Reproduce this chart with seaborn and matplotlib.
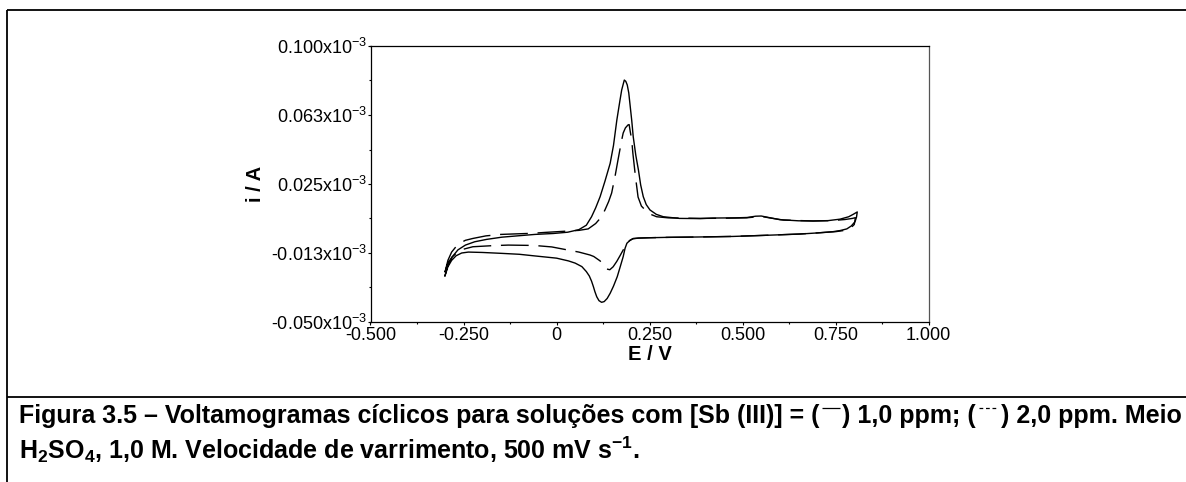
import matplotlib
matplotlib.use("Agg")
import matplotlib.pyplot as plt
from matplotlib.lines import Line2D
from matplotlib.ticker import AutoMinorLocator
import numpy as np
import pandas as pd
import seaborn as sns

# ---------------- data (E in V, i in microampere) ----------------
E_1ppm = [-0.300, -0.292, -0.280, -0.265, -0.245, -0.220, -0.188, -0.147, -0.100, -0.058,
          -0.009, 0.030, 0.060, 0.080, 0.094, 0.105, 0.117, 0.130, 0.144, 0.153,
          0.162, 0.170, 0.175, 0.182, 0.186, 0.190, 0.194, 0.197, 0.202, 0.206,
          0.213, 0.220, 0.226, 0.233, 0.241, 0.251, 0.268, 0.287, 0.330, 0.386,
          0.420, 0.480, 0.512, 0.535, 0.550, 0.570, 0.600, 0.650, 0.689, 0.730,
          0.762, 0.785, 0.797, 0.808,
          0.806, 0.802, 0.792, 0.780, 0.762, 0.743, 0.700, 0.654, 0.560, 0.474,
          0.380, 0.297, 0.250, 0.220, 0.206, 0.198, 0.189, 0.184, 0.179, 0.171,
          0.163, 0.153, 0.144, 0.136, 0.128, 0.121, 0.114, 0.108, 0.103, 0.099,
          0.094, 0.088, 0.080, 0.068, 0.050, 0.032, 0.000, -0.058, -0.100, -0.147,
          -0.200, -0.237, -0.255, -0.270, -0.282, -0.292, -0.300]
i_1ppm = [-25.0, -19.0, -14.5, -10.8, -8.2, -6.4, -5.1, -3.9, -3.1, -2.4,
          -1.9, -1.2, 0.2, 2.6, 7.2, 12.0, 18.1, 26.5, 36.2, 46.0,
          59.8, 70.0, 76.1, 81.5, 80.8, 78.8, 74.5, 68.9, 59.5, 50.7,
          40.5, 32.6, 24.5, 18.1, 13.8, 10.9, 8.5, 7.2, 6.3, 6.2,
          6.5, 6.6, 6.8, 7.5, 7.6, 6.8, 5.6, 5.0, 4.9, 5.1,
          5.9, 7.2, 8.5, 9.8,
          7.0, 4.5, 2.2, 0.6, -0.3, -0.9, -1.6, -2.2, -2.9, -3.5,
          -3.8, -4.0, -4.2, -4.4, -4.6, -5.5, -7.2, -10.0, -14.5, -20.0,
          -25.4, -30.5, -34.4, -37.2, -38.9, -39.3, -38.4, -36.3, -33.5, -30.8,
          -27.8, -25.0, -22.6, -19.9, -18.0, -16.8, -15.3, -14.1, -13.2, -12.7,
          -12.2, -12.0, -12.5, -14.0, -16.5, -20.0, -25.0]

E_2ppm = [-0.300, -0.292, -0.282, -0.270, -0.259, -0.245, -0.225, -0.190, -0.150, -0.066,
          -0.030, 0.020, 0.060, 0.085, 0.105, 0.121, 0.130, 0.140, 0.148, 0.157,
          0.165, 0.175, 0.179, 0.185, 0.192, 0.195, 0.198, 0.202, 0.205, 0.212,
          0.219, 0.228, 0.238, 0.252, 0.269, 0.300, 0.386, 0.450, 0.510, 0.540,
          0.552, 0.575, 0.610, 0.690, 0.740, 0.775, 0.795, 0.803,
          0.800, 0.790, 0.775, 0.750, 0.700, 0.650, 0.560, 0.470, 0.380, 0.300,
          0.250, 0.220, 0.205, 0.196, 0.188, 0.180, 0.171, 0.162, 0.152, 0.143,
          0.135, 0.125, 0.117, 0.100, 0.090, 0.060, 0.031, -0.013, -0.060, -0.130,
          -0.171, -0.225, -0.259, -0.281, -0.292, -0.300]
i_2ppm = [-23.0, -16.5, -12.0, -9.0, -7.1, -5.6, -4.6, -3.2, -2.4, -1.8,
          -1.3, -0.7, -0.2, 0.6, 3.5, 7.2, 10.9, 15.5, 20.1, 29.0,
          38.0, 48.9, 52.7, 55.5, 57.1, 57.3, 53.5, 48.9, 41.8, 29.0,
          17.9, 13.0, 10.9, 8.6, 7.2, 6.6, 6.3, 6.4, 6.6, 7.2,
          7.3, 6.5, 5.4, 4.9, 5.1, 5.7, 6.3, 6.7,
          3.0, 1.0, -0.2, -0.9, -1.6, -2.2, -2.9, -3.5, -3.8, -4.0,
          -4.2, -4.4, -4.8, -5.8, -7.5, -10.5, -13.8, -17.0, -20.0, -21.6,
          -21.2, -19.0, -16.8, -14.4, -13.6, -12.0, -10.9, -9.2, -8.4, -8.2,
          -8.5, -9.1, -10.9, -14.7, -18.0, -23.0]

x_ticks = [-0.5, -0.25, 0.0, 0.25, 0.5, 0.75, 1.0]
x_tick_labels = ["-0.500", "-0.250", "0", "0.250", "0.500", "0.750", "1.000"]
y_ticks_e3 = [-0.05, -0.0125, 0.025, 0.0625, 0.1]
y_tick_labels = ["-0.050", "-0.013", "0.025", "0.063", "0.100"]

x_label = "E / V"
y_label = "i / A"
caption_1a = "Figura 3.5 – Voltamogramas cíclicos para soluções com [Sb (III)] = ("
caption_1b = ") 1,0 ppm; ("
caption_1c = ") 2,0 ppm. Meio"
caption_2 = "H$_2$SO$_4$, 1,0 M. Velocidade de varrimento, 500 mV s$^{-1}$."

# ---------------- style ----------------
sns.set_theme(style="ticks")
plt.rcParams["font.family"] = ["Liberation Sans", "DejaVu Sans"]
plt.rcParams["mathtext.default"] = "regular"
plt.rcParams["axes.unicode_minus"] = False

W, H = 1186, 482
fig = plt.figure(figsize=(W / 100, H / 100), dpi=100)
fig.patch.set_facecolor("white")

ax_l, ax_r, ax_t, ax_b = 370.5, 928.7, 46.0, 322.0
ax = fig.add_axes([ax_l / W, 1 - ax_b / H, (ax_r - ax_l) / W, (ax_b - ax_t) / H])

df1 = pd.DataFrame({"E": E_1ppm, "i": np.array(i_1ppm) * 1e-6})
df2 = pd.DataFrame({"E": E_2ppm, "i": np.array(i_2ppm) * 1e-6})
sns.lineplot(data=df1, x="E", y="i", sort=False, estimator=None, color="black",
             linewidth=1.0, ax=ax)
sns.lineplot(data=df2, x="E", y="i", sort=False, estimator=None, color="black",
             linewidth=1.0, linestyle=(0, (20, 7)), ax=ax)

ax.set_xlim(-0.5, 1.0)
ax.set_ylim(-0.05e-3, 0.1e-3)
ax.set_xticks(x_ticks)
ax.set_xticklabels(x_tick_labels)
ax.set_yticks([v * 1e-3 for v in y_ticks_e3])
ax.set_yticklabels([s + "x10$^{-3}$" for s in y_tick_labels])
ax.xaxis.set_minor_locator(AutoMinorLocator(2))
ax.yaxis.set_minor_locator(AutoMinorLocator(2))
ax.tick_params(which="major", direction="out", length=2.4, width=0.8, color="black",
               labelsize=13, labelcolor="black")
ax.tick_params(axis="y", which="major", pad=0)
ax.tick_params(axis="x", which="major", pad=1.5)
ax.tick_params(which="minor", direction="out", length=1.6, width=0.8, color="black")

for side, sp in ax.spines.items():
    sp.set_visible(True)
    sp.set_color("black")
    sp.set_linewidth(0.9)
ax.spines["right"].set_color("#555555")
ax.set_facecolor("white")
ax.grid(False)

ax.set_xlabel(x_label, fontsize=14.5, fontweight="bold", color="black")
ax.set_ylabel(y_label, fontsize=14.5, fontweight="bold", color="black")
ax.xaxis.set_label_coords(0.5, (ax_b - 355) / (ax_b - ax_t))
ax.xaxis.label.set_verticalalignment("center")
ax.yaxis.set_label_coords((255.5 - ax_l) / (ax_r - ax_l), 0.5)
ax.yaxis.label.set_verticalalignment("center")

# ---------------- frame lines ----------------
def fig_line(x0, y0, x1, y1, lw=1.3, **kw):
    fig.add_artist(Line2D([x0 / W, x1 / W], [1 - y0 / H, 1 - y1 / H],
                          transform=fig.transFigure, color="black", linewidth=lw,
                          solid_capstyle="butt", **kw))

fig_line(7, 10, W, 10)
fig_line(7, 10, 7, H)
fig_line(7, 397, W, 397)

# ---------------- caption ----------------
renderer = fig.canvas.get_renderer()
cap_fs = 18.0

def text_at(x_px, base_px, s):
    t = fig.text(x_px / W, 1 - base_px / H, s, fontsize=cap_fs, fontweight="bold",
                 ha="left", va="baseline", color="black")
    return t.get_window_extent(renderer).x1

base1, base2 = 423, 459
x = text_at(19, base1, caption_1a)
fig_line(x + 2, base1 - 15, x + 20, base1 - 15, lw=0.9)
x = text_at(x + 23, base1, caption_1b)
fig_line(x + 3, base1 - 15, x + 22, base1 - 15, lw=0.9, linestyle=(0, (3, 2.2)))
x = text_at(x + 25, base1, caption_1c)
text_at(19, base2, caption_2)

fig.savefig("out.png", dpi=100, facecolor="white")
